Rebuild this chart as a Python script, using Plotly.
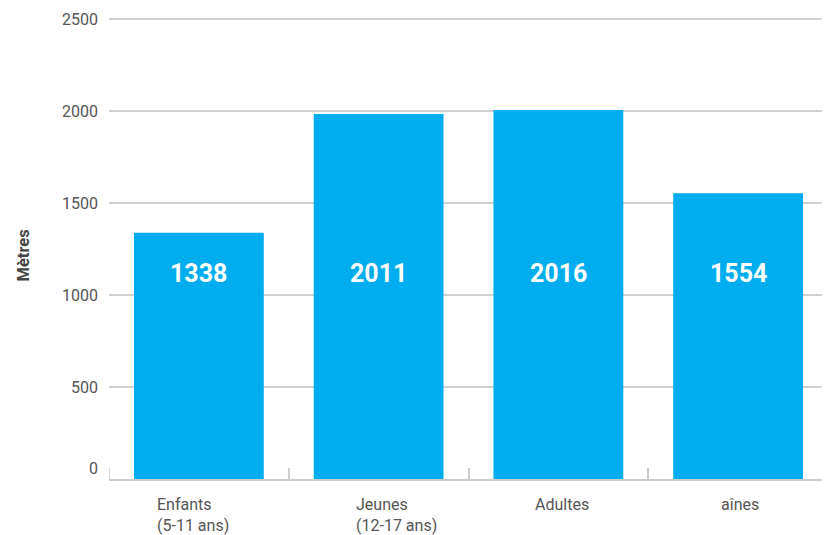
import plotly.graph_objects as go

categories = ["Enfants", "Jeunes", "Adultes", "aînes"]
category_labels = ["Enfants<br>(5-11 ans)", "Jeunes<br>(12-17 ans)", "Adultes", "aînes"]
bar_values = [1338, 1984, 2006, 1554]
value_labels = ["1338", "2011", "2016", "1554"]
y_ticks = [0, 500, 1000, 1500, 2000, 2500]
y_tick_text = ["0<br> ", "500", "1000", "1500", "2000", "2500"]
y_title = "Mètres"

FONT = "Roboto"
BAR_COLOR = "#00AEEF"
AXIS_COLOR = "#cccccc"
label_shifts = [-6, 18, 4, 2]

fig = go.Figure()
fig.add_trace(go.Bar(
    x=categories, y=bar_values, marker=dict(color=BAR_COLOR, line=dict(width=0)),
    hoverinfo="skip", showlegend=False,
))

annotations = []
for cat, lab in zip(categories, value_labels):
    annotations.append(dict(
        x=cat, xref="x", y=0.445, yref="paper", text=lab, showarrow=False,
        font=dict(family=FONT, size=25, color="white", weight="bold"),
        xanchor="center", yanchor="middle",
    ))
for cat, lab, sh in zip(categories, category_labels, label_shifts):
    annotations.append(dict(
        x=cat, xref="x", y=0, yref="paper", text=lab, showarrow=False,
        font=dict(family=FONT, size=16, color="#555555"),
        xanchor="center", yanchor="top", align="left", yshift=-14, xshift=sh,
    ))
# y-axis title
annotations.append(dict(
    x=0, xref="paper", y=0.5, yref="paper", text=y_title, showarrow=False,
    textangle=-90, xanchor="center", yanchor="middle", xshift=-86, yshift=-7,
    font=dict(family=FONT, size=16.5, color="#444444", weight="bold"),
))

# tick marks at the outer category boundaries
shapes = []
for edge in (-0.5, len(categories) - 0.5):
    shapes.append(dict(
        type="line", xref="x", yref="paper", x0=edge, x1=edge, y0=0, y1=11 / 461,
        line=dict(color=AXIS_COLOR, width=1.5),
    ))

fig.update_layout(
    width=830, height=535,
    margin=dict(l=101, r=10, t=10, b=64),
    paper_bgcolor="white", plot_bgcolor="white",
    bargap=50 / 180,
    font=dict(family=FONT, color="#555555"),
    annotations=annotations,
    shapes=shapes,
    xaxis=dict(
        range=[-0.5, len(categories) - 0.5],
        showline=True, linecolor=AXIS_COLOR, linewidth=1.5,
        ticks="inside", tickson="boundaries", ticklen=11, tickcolor=AXIS_COLOR,
        tickwidth=1.5, showticklabels=False, showgrid=False, zeroline=False,
        automargin=False,
    ),
    yaxis=dict(
        range=[0, 2506], tickvals=y_ticks, ticktext=y_tick_text,
        showgrid=True, gridcolor="#d0d0d0", gridwidth=1.5, zeroline=False,
        showline=False, ticks="", ticklabelstandoff=10, automargin=False,
        tickfont=dict(family=FONT, size=16, color="#555555"),
    ),
)

fig.write_html("out.html")
